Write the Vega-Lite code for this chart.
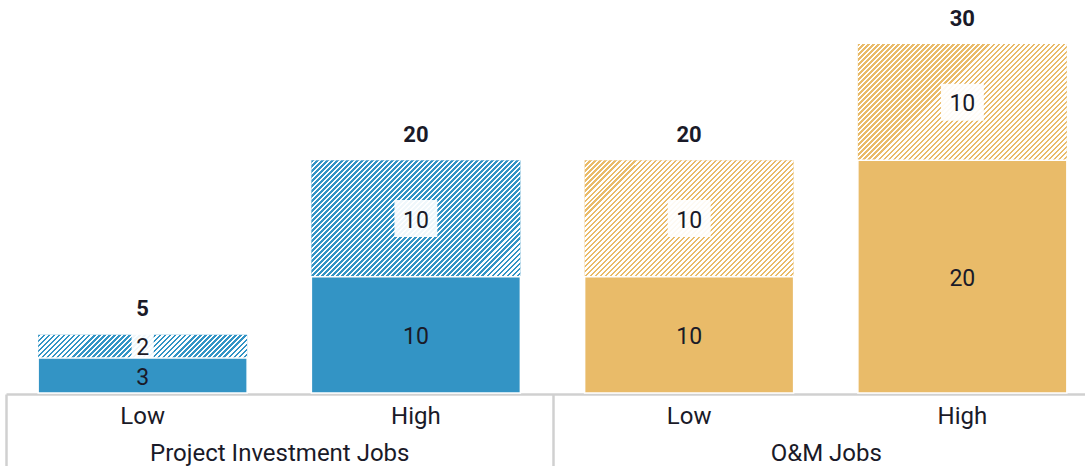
{
  "$schema": "https://vega.github.io/schema/vega-lite/v6.json",
  "width": 1079,
  "height": 349,
  "autosize": {"type": "none"},
  "padding": {"left": 6, "right": 0, "top": 44, "bottom": 73},
  "config": {"view": {"stroke": null}, "font": "Roboto"},
  "data": {
    "values": [
      {"cat": "Project Investment Jobs / Low", "group": "Project Investment Jobs", "seg": "Estimate", "order": 1, "jobs": 3},
      {"cat": "Project Investment Jobs / Low", "group": "Project Investment Jobs", "seg": "Potential", "order": 2, "jobs": 2},
      {"cat": "Project Investment Jobs / High", "group": "Project Investment Jobs", "seg": "Estimate", "order": 1, "jobs": 10},
      {"cat": "Project Investment Jobs / High", "group": "Project Investment Jobs", "seg": "Potential", "order": 2, "jobs": 10},
      {"cat": "O&M Jobs / Low", "group": "O&M Jobs", "seg": "Estimate", "order": 1, "jobs": 10},
      {"cat": "O&M Jobs / Low", "group": "O&M Jobs", "seg": "Potential", "order": 2, "jobs": 10},
      {"cat": "O&M Jobs / High", "group": "O&M Jobs", "seg": "Estimate", "order": 1, "jobs": 20},
      {"cat": "O&M Jobs / High", "group": "O&M Jobs", "seg": "Potential", "order": 2, "jobs": 10}
    ]
  },
  "transform": [
    {"stack": "jobs", "groupby": ["cat"], "sort": [{"field": "order", "order": "ascending"}], "as": ["y0", "y1"]}
  ],
  "resolve": {"scale": {"x": "independent"}, "axis": {"x": "independent"}},
  "layer": [
    {
      "encoding": {
        "x": {
          "field": "cat",
          "type": "nominal",
          "scale": {
            "domain": ["Project Investment Jobs / Low", "Project Investment Jobs / High", "O&M Jobs / Low", "O&M Jobs / High"],
            "range": [0, 1093],
            "paddingInner": 0.2351,
            "paddingOuter": 0.1176
          },
          "axis": {
            "orient": "bottom",
            "title": null,
            "labelExpr": "split(datum.label, ' / ')[1]",
            "ticks": false,
            "tickSize": 0,
            "domainColor": "#d0d0d0",
            "domainWidth": 2.5,
            "offset": 1,
            "labelPadding": 29,
            "labelBaseline": "alphabetic",
            "labelFont": "Roboto",
            "labelFontSize": 24,
            "labelColor": "#1a1a28",
            "labelOverlap": false,
            "labelLimit": 0,
            "labelAngle": 0
          }
        }
      },
      "layer": [
        {
          "transform": [{"filter": "datum.seg == 'Potential'"}],
          "mark": {"type": "bar"},
          "encoding": {
            "y": {"field": "y1", "type": "quantitative", "scale": {"domain": [0, 30], "nice": false, "zero": true}, "axis": null},
            "y2": {"field": "y0"},
            "color": {"field": "group", "type": "nominal", "scale": {"domain": ["Project Investment Jobs", "O&M Jobs"], "range": ["#3394c5", "#e9bb69"]}, "legend": null}
          }
        },
        {
          "transform": [{"filter": "datum.seg == 'Potential' && datum.jobs == 10"}],
          "mark": {
            "type": "bar",
            "fill": {
              "gradient": "linear", "x1": 0, "y1": 0, "x2": 1.1884, "y2": 0.6615,
              "stops": [
                {"offset":0,"color":"#fff0"},
                {"offset":0.0077,"color":"#fff0"},{"offset":0.0077,"color":"#fff"},
                {"offset":0.0154,"color":"#fff"},{"offset":0.0154,"color":"#fff0"},
                {"offset":0.0231,"color":"#fff0"},{"offset":0.0231,"color":"#fff"},
                {"offset":0.0308,"color":"#fff"},{"offset":0.0308,"color":"#fff0"},
                {"offset":0.0385,"color":"#fff0"},{"offset":0.0385,"color":"#fff"},
                {"offset":0.0462,"color":"#fff"},{"offset":0.0462,"color":"#fff0"},
                {"offset":0.0538,"color":"#fff0"},{"offset":0.0538,"color":"#fff"},
                {"offset":0.0615,"color":"#fff"},{"offset":0.0615,"color":"#fff0"},
                {"offset":0.0692,"color":"#fff0"},{"offset":0.0692,"color":"#fff"},
                {"offset":0.0769,"color":"#fff"},{"offset":0.0769,"color":"#fff0"},
                {"offset":0.0846,"color":"#fff0"},{"offset":0.0846,"color":"#fff"},
                {"offset":0.0923,"color":"#fff"},{"offset":0.0923,"color":"#fff0"},
                {"offset":0.1,"color":"#fff0"},{"offset":0.1,"color":"#fff"},
                {"offset":0.1077,"color":"#fff"},{"offset":0.1077,"color":"#fff0"},
                {"offset":0.1154,"color":"#fff0"},{"offset":0.1154,"color":"#fff"},
                {"offset":0.1231,"color":"#fff"},{"offset":0.1231,"color":"#fff0"},
                {"offset":0.1308,"color":"#fff0"},{"offset":0.1308,"color":"#fff"},
                {"offset":0.1385,"color":"#fff"},{"offset":0.1385,"color":"#fff0"},
                {"offset":0.1462,"color":"#fff0"},{"offset":0.1462,"color":"#fff"},
                {"offset":0.1538,"color":"#fff"},{"offset":0.1538,"color":"#fff0"},
                {"offset":0.1615,"color":"#fff0"},{"offset":0.1615,"color":"#fff"},
                {"offset":0.1692,"color":"#fff"},{"offset":0.1692,"color":"#fff0"},
                {"offset":0.1769,"color":"#fff0"},{"offset":0.1769,"color":"#fff"},
                {"offset":0.1846,"color":"#fff"},{"offset":0.1846,"color":"#fff0"},
                {"offset":0.1923,"color":"#fff0"},{"offset":0.1923,"color":"#fff"},
                {"offset":0.2,"color":"#fff"},{"offset":0.2,"color":"#fff0"},
                {"offset":0.2077,"color":"#fff0"},{"offset":0.2077,"color":"#fff"},
                {"offset":0.2154,"color":"#fff"},{"offset":0.2154,"color":"#fff0"},
                {"offset":0.2231,"color":"#fff0"},{"offset":0.2231,"color":"#fff"},
                {"offset":0.2308,"color":"#fff"},{"offset":0.2308,"color":"#fff0"},
                {"offset":0.2385,"color":"#fff0"},{"offset":0.2385,"color":"#fff"},
                {"offset":0.2462,"color":"#fff"},{"offset":0.2462,"color":"#fff0"},
                {"offset":0.2538,"color":"#fff0"},{"offset":0.2538,"color":"#fff"},
                {"offset":0.2615,"color":"#fff"},{"offset":0.2615,"color":"#fff0"},
                {"offset":0.2692,"color":"#fff0"},{"offset":0.2692,"color":"#fff"},
                {"offset":0.2769,"color":"#fff"},{"offset":0.2769,"color":"#fff0"},
                {"offset":0.2846,"color":"#fff0"},{"offset":0.2846,"color":"#fff"},
                {"offset":0.2923,"color":"#fff"},{"offset":0.2923,"color":"#fff0"},
                {"offset":0.3,"color":"#fff0"},{"offset":0.3,"color":"#fff"},
                {"offset":0.3077,"color":"#fff"},{"offset":0.3077,"color":"#fff0"},
                {"offset":0.3154,"color":"#fff0"},{"offset":0.3154,"color":"#fff"},
                {"offset":0.3231,"color":"#fff"},{"offset":0.3231,"color":"#fff0"},
                {"offset":0.3308,"color":"#fff0"},{"offset":0.3308,"color":"#fff"},
                {"offset":0.3385,"color":"#fff"},{"offset":0.3385,"color":"#fff0"},
                {"offset":0.3462,"color":"#fff0"},{"offset":0.3462,"color":"#fff"},
                {"offset":0.3538,"color":"#fff"},{"offset":0.3538,"color":"#fff0"},
                {"offset":0.3615,"color":"#fff0"},{"offset":0.3615,"color":"#fff"},
                {"offset":0.3692,"color":"#fff"},{"offset":0.3692,"color":"#fff0"},
                {"offset":0.3769,"color":"#fff0"},{"offset":0.3769,"color":"#fff"},
                {"offset":0.3846,"color":"#fff"},{"offset":0.3846,"color":"#fff0"},
                {"offset":0.3923,"color":"#fff0"},{"offset":0.3923,"color":"#fff"},
                {"offset":0.4,"color":"#fff"},{"offset":0.4,"color":"#fff0"},
                {"offset":0.4077,"color":"#fff0"},{"offset":0.4077,"color":"#fff"},
                {"offset":0.4154,"color":"#fff"},{"offset":0.4154,"color":"#fff0"},
                {"offset":0.4231,"color":"#fff0"},{"offset":0.4231,"color":"#fff"},
                {"offset":0.4308,"color":"#fff"},{"offset":0.4308,"color":"#fff0"},
                {"offset":0.4385,"color":"#fff0"},{"offset":0.4385,"color":"#fff"},
                {"offset":0.4462,"color":"#fff"},{"offset":0.4462,"color":"#fff0"},
                {"offset":0.4538,"color":"#fff0"},{"offset":0.4538,"color":"#fff"},
                {"offset":0.4615,"color":"#fff"},{"offset":0.4615,"color":"#fff0"},
                {"offset":0.4692,"color":"#fff0"},{"offset":0.4692,"color":"#fff"},
                {"offset":0.4769,"color":"#fff"},{"offset":0.4769,"color":"#fff0"},
                {"offset":0.4846,"color":"#fff0"},{"offset":0.4846,"color":"#fff"},
                {"offset":0.4923,"color":"#fff"},{"offset":0.4923,"color":"#fff0"},
                {"offset":0.5,"color":"#fff0"},{"offset":0.5,"color":"#fff"},
                {"offset":0.5077,"color":"#fff"},{"offset":0.5077,"color":"#fff0"},
                {"offset":0.5154,"color":"#fff0"},{"offset":0.5154,"color":"#fff"},
                {"offset":0.5231,"color":"#fff"},{"offset":0.5231,"color":"#fff0"},
                {"offset":0.5308,"color":"#fff0"},{"offset":0.5308,"color":"#fff"},
                {"offset":0.5385,"color":"#fff"},{"offset":0.5385,"color":"#fff0"},
                {"offset":0.5462,"color":"#fff0"},{"offset":0.5462,"color":"#fff"},
                {"offset":0.5538,"color":"#fff"},{"offset":0.5538,"color":"#fff0"},
                {"offset":0.5615,"color":"#fff0"},{"offset":0.5615,"color":"#fff"},
                {"offset":0.5692,"color":"#fff"},{"offset":0.5692,"color":"#fff0"},
                {"offset":0.5769,"color":"#fff0"},{"offset":0.5769,"color":"#fff"},
                {"offset":0.5846,"color":"#fff"},{"offset":0.5846,"color":"#fff0"},
                {"offset":0.5923,"color":"#fff0"},{"offset":0.5923,"color":"#fff"},
                {"offset":0.6,"color":"#fff"},{"offset":0.6,"color":"#fff0"},
                {"offset":0.6077,"color":"#fff0"},{"offset":0.6077,"color":"#fff"},
                {"offset":0.6154,"color":"#fff"},{"offset":0.6154,"color":"#fff0"},
                {"offset":0.6231,"color":"#fff0"},{"offset":0.6231,"color":"#fff"},
                {"offset":0.6308,"color":"#fff"},{"offset":0.6308,"color":"#fff0"},
                {"offset":0.6385,"color":"#fff0"},{"offset":0.6385,"color":"#fff"},
                {"offset":0.6462,"color":"#fff"},{"offset":0.6462,"color":"#fff0"},
                {"offset":0.6538,"color":"#fff0"},{"offset":0.6538,"color":"#fff"},
                {"offset":0.6615,"color":"#fff"},{"offset":0.6615,"color":"#fff0"},
                {"offset":0.6692,"color":"#fff0"},{"offset":0.6692,"color":"#fff"},
                {"offset":0.6769,"color":"#fff"},{"offset":0.6769,"color":"#fff0"},
                {"offset":0.6846,"color":"#fff0"},{"offset":0.6846,"color":"#fff"},
                {"offset":0.6923,"color":"#fff"},{"offset":0.6923,"color":"#fff0"},
                {"offset":0.7,"color":"#fff0"},{"offset":0.7,"color":"#fff"},
                {"offset":0.7077,"color":"#fff"},{"offset":0.7077,"color":"#fff0"},
                {"offset":0.7154,"color":"#fff0"},{"offset":0.7154,"color":"#fff"},
                {"offset":0.7231,"color":"#fff"},{"offset":0.7231,"color":"#fff0"},
                {"offset":0.7308,"color":"#fff0"},{"offset":0.7308,"color":"#fff"},
                {"offset":0.7385,"color":"#fff"},{"offset":0.7385,"color":"#fff0"},
                {"offset":0.7462,"color":"#fff0"},{"offset":0.7462,"color":"#fff"},
                {"offset":0.7538,"color":"#fff"},{"offset":0.7538,"color":"#fff0"},
                {"offset":0.7615,"color":"#fff0"},{"offset":0.7615,"color":"#fff"},
                {"offset":0.7692,"color":"#fff"},{"offset":0.7692,"color":"#fff0"},
                {"offset":0.7769,"color":"#fff0"},{"offset":0.7769,"color":"#fff"},
                {"offset":0.7846,"color":"#fff"},{"offset":0.7846,"color":"#fff0"},
                {"offset":0.7923,"color":"#fff0"},{"offset":0.7923,"color":"#fff"},
                {"offset":0.8,"color":"#fff"},{"offset":0.8,"color":"#fff0"},
                {"offset":0.8077,"color":"#fff0"},{"offset":0.8077,"color":"#fff"},
                {"offset":0.8154,"color":"#fff"},{"offset":0.8154,"color":"#fff0"},
                {"offset":0.8231,"color":"#fff0"},{"offset":0.8231,"color":"#fff"},
                {"offset":0.8308,"color":"#fff"},{"offset":0.8308,"color":"#fff0"},
                {"offset":0.8385,"color":"#fff0"},{"offset":0.8385,"color":"#fff"},
                {"offset":0.8462,"color":"#fff"},{"offset":0.8462,"color":"#fff0"},
                {"offset":0.8538,"color":"#fff0"},{"offset":0.8538,"color":"#fff"},
                {"offset":0.8615,"color":"#fff"},{"offset":0.8615,"color":"#fff0"},
                {"offset":0.8692,"color":"#fff0"},{"offset":0.8692,"color":"#fff"},
                {"offset":0.8769,"color":"#fff"},{"offset":0.8769,"color":"#fff0"},
                {"offset":0.8846,"color":"#fff0"},{"offset":0.8846,"color":"#fff"},
                {"offset":0.8923,"color":"#fff"},{"offset":0.8923,"color":"#fff0"},
                {"offset":0.9,"color":"#fff0"},{"offset":0.9,"color":"#fff"},
                {"offset":0.9077,"color":"#fff"},{"offset":0.9077,"color":"#fff0"},
                {"offset":0.9154,"color":"#fff0"},{"offset":0.9154,"color":"#fff"},
                {"offset":0.9231,"color":"#fff"},{"offset":0.9231,"color":"#fff0"},
                {"offset":0.9308,"color":"#fff0"},{"offset":0.9308,"color":"#fff"},
                {"offset":0.9385,"color":"#fff"},{"offset":0.9385,"color":"#fff0"},
                {"offset":0.9462,"color":"#fff0"},{"offset":0.9462,"color":"#fff"},
                {"offset":0.9538,"color":"#fff"},{"offset":0.9538,"color":"#fff0"},
                {"offset":0.9615,"color":"#fff0"},{"offset":0.9615,"color":"#fff"},
                {"offset":0.9692,"color":"#fff"},{"offset":0.9692,"color":"#fff0"},
                {"offset":0.9769,"color":"#fff0"},{"offset":0.9769,"color":"#fff"},
                {"offset":0.9846,"color":"#fff"},{"offset":0.9846,"color":"#fff0"},
                {"offset":0.9923,"color":"#fff0"},{"offset":0.9923,"color":"#fff"},
                {"offset":1,"color":"#fff"}
              ]
            }
          },
          "encoding": {
            "y": {"field": "y1", "type": "quantitative", "scale": {"domain": [0, 30], "nice": false, "zero": true}, "axis": null},
            "y2": {"field": "y0"}
          }
        },
        {
          "transform": [{"filter": "datum.seg == 'Potential' && datum.jobs == 2"}],
          "mark": {
            "type": "bar",
            "fill": {
              "gradient": "linear", "x1": 0, "y1": 0, "x2": 1.0977, "y2": 0.1222,
              "stops": [
                {"offset":0,"color":"#fff0"},
                {"offset":0.0109,"color":"#fff0"},{"offset":0.0109,"color":"#fff"},
                {"offset":0.0217,"color":"#fff"},{"offset":0.0217,"color":"#fff0"},
                {"offset":0.0326,"color":"#fff0"},{"offset":0.0326,"color":"#fff"},
                {"offset":0.0435,"color":"#fff"},{"offset":0.0435,"color":"#fff0"},
                {"offset":0.0543,"color":"#fff0"},{"offset":0.0543,"color":"#fff"},
                {"offset":0.0652,"color":"#fff"},{"offset":0.0652,"color":"#fff0"},
                {"offset":0.0761,"color":"#fff0"},{"offset":0.0761,"color":"#fff"},
                {"offset":0.087,"color":"#fff"},{"offset":0.087,"color":"#fff0"},
                {"offset":0.0978,"color":"#fff0"},{"offset":0.0978,"color":"#fff"},
                {"offset":0.1087,"color":"#fff"},{"offset":0.1087,"color":"#fff0"},
                {"offset":0.1196,"color":"#fff0"},{"offset":0.1196,"color":"#fff"},
                {"offset":0.1304,"color":"#fff"},{"offset":0.1304,"color":"#fff0"},
                {"offset":0.1413,"color":"#fff0"},{"offset":0.1413,"color":"#fff"},
                {"offset":0.1522,"color":"#fff"},{"offset":0.1522,"color":"#fff0"},
                {"offset":0.163,"color":"#fff0"},{"offset":0.163,"color":"#fff"},
                {"offset":0.1739,"color":"#fff"},{"offset":0.1739,"color":"#fff0"},
                {"offset":0.1848,"color":"#fff0"},{"offset":0.1848,"color":"#fff"},
                {"offset":0.1957,"color":"#fff"},{"offset":0.1957,"color":"#fff0"},
                {"offset":0.2065,"color":"#fff0"},{"offset":0.2065,"color":"#fff"},
                {"offset":0.2174,"color":"#fff"},{"offset":0.2174,"color":"#fff0"},
                {"offset":0.2283,"color":"#fff0"},{"offset":0.2283,"color":"#fff"},
                {"offset":0.2391,"color":"#fff"},{"offset":0.2391,"color":"#fff0"},
                {"offset":0.25,"color":"#fff0"},{"offset":0.25,"color":"#fff"},
                {"offset":0.2609,"color":"#fff"},{"offset":0.2609,"color":"#fff0"},
                {"offset":0.2717,"color":"#fff0"},{"offset":0.2717,"color":"#fff"},
                {"offset":0.2826,"color":"#fff"},{"offset":0.2826,"color":"#fff0"},
                {"offset":0.2935,"color":"#fff0"},{"offset":0.2935,"color":"#fff"},
                {"offset":0.3043,"color":"#fff"},{"offset":0.3043,"color":"#fff0"},
                {"offset":0.3152,"color":"#fff0"},{"offset":0.3152,"color":"#fff"},
                {"offset":0.3261,"color":"#fff"},{"offset":0.3261,"color":"#fff0"},
                {"offset":0.337,"color":"#fff0"},{"offset":0.337,"color":"#fff"},
                {"offset":0.3478,"color":"#fff"},{"offset":0.3478,"color":"#fff0"},
                {"offset":0.3587,"color":"#fff0"},{"offset":0.3587,"color":"#fff"},
                {"offset":0.3696,"color":"#fff"},{"offset":0.3696,"color":"#fff0"},
                {"offset":0.3804,"color":"#fff0"},{"offset":0.3804,"color":"#fff"},
                {"offset":0.3913,"color":"#fff"},{"offset":0.3913,"color":"#fff0"},
                {"offset":0.4022,"color":"#fff0"},{"offset":0.4022,"color":"#fff"},
                {"offset":0.413,"color":"#fff"},{"offset":0.413,"color":"#fff0"},
                {"offset":0.4239,"color":"#fff0"},{"offset":0.4239,"color":"#fff"},
                {"offset":0.4348,"color":"#fff"},{"offset":0.4348,"color":"#fff0"},
                {"offset":0.4457,"color":"#fff0"},{"offset":0.4457,"color":"#fff"},
                {"offset":0.4565,"color":"#fff"},{"offset":0.4565,"color":"#fff0"},
                {"offset":0.4674,"color":"#fff0"},{"offset":0.4674,"color":"#fff"},
                {"offset":0.4783,"color":"#fff"},{"offset":0.4783,"color":"#fff0"},
                {"offset":0.4891,"color":"#fff0"},{"offset":0.4891,"color":"#fff"},
                {"offset":0.5,"color":"#fff"},{"offset":0.5,"color":"#fff0"},
                {"offset":0.5109,"color":"#fff0"},{"offset":0.5109,"color":"#fff"},
                {"offset":0.5217,"color":"#fff"},{"offset":0.5217,"color":"#fff0"},
                {"offset":0.5326,"color":"#fff0"},{"offset":0.5326,"color":"#fff"},
                {"offset":0.5435,"color":"#fff"},{"offset":0.5435,"color":"#fff0"},
                {"offset":0.5543,"color":"#fff0"},{"offset":0.5543,"color":"#fff"},
                {"offset":0.5652,"color":"#fff"},{"offset":0.5652,"color":"#fff0"},
                {"offset":0.5761,"color":"#fff0"},{"offset":0.5761,"color":"#fff"},
                {"offset":0.587,"color":"#fff"},{"offset":0.587,"color":"#fff0"},
                {"offset":0.5978,"color":"#fff0"},{"offset":0.5978,"color":"#fff"},
                {"offset":0.6087,"color":"#fff"},{"offset":0.6087,"color":"#fff0"},
                {"offset":0.6196,"color":"#fff0"},{"offset":0.6196,"color":"#fff"},
                {"offset":0.6304,"color":"#fff"},{"offset":0.6304,"color":"#fff0"},
                {"offset":0.6413,"color":"#fff0"},{"offset":0.6413,"color":"#fff"},
                {"offset":0.6522,"color":"#fff"},{"offset":0.6522,"color":"#fff0"},
                {"offset":0.663,"color":"#fff0"},{"offset":0.663,"color":"#fff"},
                {"offset":0.6739,"color":"#fff"},{"offset":0.6739,"color":"#fff0"},
                {"offset":0.6848,"color":"#fff0"},{"offset":0.6848,"color":"#fff"},
                {"offset":0.6957,"color":"#fff"},{"offset":0.6957,"color":"#fff0"},
                {"offset":0.7065,"color":"#fff0"},{"offset":0.7065,"color":"#fff"},
                {"offset":0.7174,"color":"#fff"},{"offset":0.7174,"color":"#fff0"},
                {"offset":0.7283,"color":"#fff0"},{"offset":0.7283,"color":"#fff"},
                {"offset":0.7391,"color":"#fff"},{"offset":0.7391,"color":"#fff0"},
                {"offset":0.75,"color":"#fff0"},{"offset":0.75,"color":"#fff"},
                {"offset":0.7609,"color":"#fff"},{"offset":0.7609,"color":"#fff0"},
                {"offset":0.7717,"color":"#fff0"},{"offset":0.7717,"color":"#fff"},
                {"offset":0.7826,"color":"#fff"},{"offset":0.7826,"color":"#fff0"},
                {"offset":0.7935,"color":"#fff0"},{"offset":0.7935,"color":"#fff"},
                {"offset":0.8043,"color":"#fff"},{"offset":0.8043,"color":"#fff0"},
                {"offset":0.8152,"color":"#fff0"},{"offset":0.8152,"color":"#fff"},
                {"offset":0.8261,"color":"#fff"},{"offset":0.8261,"color":"#fff0"},
                {"offset":0.837,"color":"#fff0"},{"offset":0.837,"color":"#fff"},
                {"offset":0.8478,"color":"#fff"},{"offset":0.8478,"color":"#fff0"},
                {"offset":0.8587,"color":"#fff0"},{"offset":0.8587,"color":"#fff"},
                {"offset":0.8696,"color":"#fff"},{"offset":0.8696,"color":"#fff0"},
                {"offset":0.8804,"color":"#fff0"},{"offset":0.8804,"color":"#fff"},
                {"offset":0.8913,"color":"#fff"},{"offset":0.8913,"color":"#fff0"},
                {"offset":0.9022,"color":"#fff0"},{"offset":0.9022,"color":"#fff"},
                {"offset":0.913,"color":"#fff"},{"offset":0.913,"color":"#fff0"},
                {"offset":0.9239,"color":"#fff0"},{"offset":0.9239,"color":"#fff"},
                {"offset":0.9348,"color":"#fff"},{"offset":0.9348,"color":"#fff0"},
                {"offset":0.9457,"color":"#fff0"},{"offset":0.9457,"color":"#fff"},
                {"offset":0.9565,"color":"#fff"},{"offset":0.9565,"color":"#fff0"},
                {"offset":0.9674,"color":"#fff0"},{"offset":0.9674,"color":"#fff"},
                {"offset":0.9783,"color":"#fff"},{"offset":0.9783,"color":"#fff0"},
                {"offset":0.9891,"color":"#fff0"},{"offset":0.9891,"color":"#fff"},
                {"offset":1,"color":"#fff"}
              ]
            }
          },
          "encoding": {
            "y": {"field": "y1", "type": "quantitative", "scale": {"domain": [0, 30], "nice": false, "zero": true}, "axis": null},
            "y2": {"field": "y0"}
          }
        },
        {
          "transform": [
            {"filter": "datum.seg == 'Potential'"},
            {"fold": ["y0", "y1"], "as": ["k", "v"]},
            {"aggregate": [{"op": "mean", "field": "v", "as": "mid"}], "groupby": ["cat", "jobs"]}
          ],
          "mark": {"type": "point", "filled": true, "color": "white", "fill": "white", "opacity": 0.92, "strokeWidth": 0, "size": 1369},
          "encoding": {
            "y": {"field": "mid", "type": "quantitative", "scale": {"domain": [0, 30], "nice": false, "zero": true}, "axis": null},
            "shape": {"condition": {"test": "datum.jobs < 5", "value": "M-0.6,-1H0.6V1H-0.6Z"}, "value": "M-1.16,-1H1.16V1H-1.16Z"}
          }
        },
        {
          "transform": [{"filter": "datum.seg == 'Estimate'"}],
          "mark": {"type": "bar", "stroke": "white", "strokeWidth": 1.5},
          "encoding": {
            "y": {"field": "y1", "type": "quantitative", "scale": {"domain": [0, 30], "nice": false, "zero": true}, "axis": null},
            "y2": {"field": "y0"},
            "color": {"field": "group", "type": "nominal", "scale": {"domain": ["Project Investment Jobs", "O&M Jobs"], "range": ["#3394c5", "#e9bb69"]}, "legend": null}
          }
        },
        {
          "transform": [
            {"fold": ["y0", "y1"], "as": ["k", "v"]},
            {"aggregate": [{"op": "mean", "field": "v", "as": "mid"}], "groupby": ["cat", "seg", "jobs"]}
          ],
          "mark": {"type": "text", "font": "Roboto", "fontSize": 23, "baseline": "alphabetic", "dy": 9, "color": "#1a1a28"},
          "encoding": {
            "y": {"field": "mid", "type": "quantitative", "scale": {"domain": [0, 30], "nice": false, "zero": true}, "axis": null},
            "text": {"field": "jobs", "type": "quantitative"}
          }
        },
        {
          "transform": [
            {"aggregate": [{"op": "sum", "field": "jobs", "as": "total"}], "groupby": ["cat"]}
          ],
          "mark": {"type": "text", "font": "Roboto", "fontSize": 22, "fontWeight": "bold", "baseline": "alphabetic", "dy": -18.5, "color": "#1a1a28"},
          "encoding": {
            "y": {"field": "total", "type": "quantitative", "scale": {"domain": [0, 30], "nice": false, "zero": true}, "axis": null},
            "text": {"field": "total", "type": "quantitative"}
          }
        }
      ]
    },
    {
      "mark": {"type": "rule", "opacity": 0},
      "encoding": {
        "x": {
          "field": "group",
          "type": "nominal",
          "scale": {"domain": ["Project Investment Jobs", "O&M Jobs"], "range": [0, 1093], "paddingInner": 0, "paddingOuter": 0},
          "axis": {
            "orient": "bottom",
            "title": null,
            "domain": false,
            "ticks": true,
            "tickBand": "extent",
            "tickSize": 73,
            "tickWidth": 2.5,
            "tickColor": "#d0d0d0",
            "offset": 1,
            "labelPadding": -7,
            "labelBaseline": "alphabetic",
            "labelFont": "Roboto",
            "labelFontSize": 24,
            "labelColor": "#1a1a28",
            "labelOverlap": false,
            "labelLimit": 0,
            "labelAngle": 0
          }
        }
      }
    }
  ]
}
